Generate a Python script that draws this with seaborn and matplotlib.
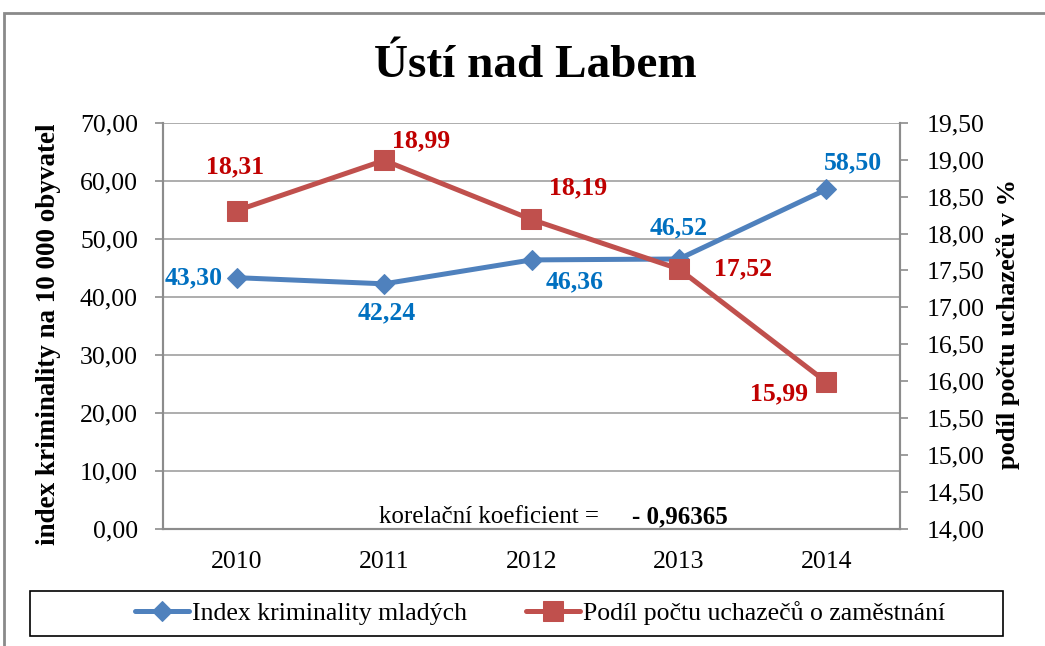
import matplotlib
matplotlib.use("Agg")
import matplotlib.pyplot as plt
import seaborn as sns
import pandas as pd
from matplotlib.patches import Rectangle
from matplotlib.ticker import FixedLocator, FuncFormatter

# ---- data ----
years = ["2010", "2011", "2012", "2013", "2014"]
crime_index = [43.30, 42.24, 46.36, 46.52, 58.50]
unemployment = [18.31, 18.99, 18.19, 17.52, 15.99]
crime_label_offsets = [(-14, 0), (3, -29), (43, -22), (0, 31), (27, 27)]
unemp_label_offsets = [(-2, 44), (37, 20), (47, 32), (64, 0), (-47, -12)]
left_ticks = [0, 10, 20, 30, 40, 50, 60, 70]
right_ticks = [14.0, 14.5, 15.0, 15.5, 16.0, 16.5, 17.0, 17.5, 18.0, 18.5, 19.0, 19.5]
title = "Ústí nad Labem"
left_label = "index kriminality na 10 000 obyvatel"
right_label = "podíl počtu uchazečů v %"
series1 = "Index kriminality mladých"
series2 = "Podíl počtu uchazečů o zaměstnání"
corr_text = "korelační koeficient ="
corr_value = "- 0,96365"

sns.set_style("white")
plt.rcParams["font.family"] = ["Liberation Serif", "DejaVu Serif"]
plt.rcParams["text.color"] = "black"
plt.rcParams["axes.labelcolor"] = "black"
plt.rcParams["xtick.color"] = "black"
plt.rcParams["ytick.color"] = "black"

W, H = 1045, 646
fig = plt.figure(figsize=(W / 100, H / 100), dpi=100)

def fx(px):
    return px / W

def fy(py):
    return 1 - py / H

ax = fig.add_axes([fx(163), fy(529), fx(900) - fx(163), fy(122.7) - fy(529)])
ax2 = ax.twinx()

df = pd.DataFrame({"pos": range(len(years)), "year": years,
                   "crime": crime_index, "unemp": unemployment})

blue_line = "#4F81BD"
red_line = "#C0504D"
blue_text = "#0070C0"
red_text = "#C00000"
grey = "#8C8C8C"

sns.lineplot(data=df, x="pos", y="crime", ax=ax, color=blue_line, linewidth=3.6,
             marker="D", markersize=10.5, markeredgecolor=blue_line, label=series1,
             legend=False)
sns.lineplot(data=df, x="pos", y="unemp", ax=ax2, color=red_line, linewidth=3.6,
             marker="s", markersize=14, markeredgecolor=red_line, label=series2,
             legend=False)

ax.set_xlim(-0.5, len(years) - 0.5)
ax.set_ylim(0, 70)
ax2.set_ylim(14, 19.5)

comma = FuncFormatter(lambda v, p: f"{v:.2f}".replace(".", ","))
ax.yaxis.set_major_locator(FixedLocator(left_ticks))
ax.yaxis.set_major_formatter(comma)
ax2.yaxis.set_major_locator(FixedLocator(right_ticks))
ax2.yaxis.set_major_formatter(comma)

ax.set_xticks(range(len(years)))
ax.set_xticklabels(years)
ax.set_xticks([i - 0.5 for i in range(len(years) + 1)], minor=True)
ax.tick_params(axis="x", which="major", length=0, pad=16, labelsize=18.5)
ax.tick_params(axis="x", which="minor", length=6, width=1.2, color=grey, direction="out")
ax.tick_params(axis="y", length=6, width=1.2, color=grey, pad=12, labelsize=18.5, left=True,
               labelcolor="black")
ax2.tick_params(axis="y", length=6, width=1.2, color=grey, pad=13, labelsize=18.5, right=True,
                labelcolor="black")

ax.grid(axis="y", color="#A0A0A0", linewidth=1.2)
ax.set_axisbelow(True)
for a in (ax, ax2):
    a.spines["top"].set_visible(False)
    for s in ("left", "right", "bottom"):
        a.spines[s].set_color(grey)
        a.spines[s].set_linewidth(1.5)
ax.set_xlabel("")
ax.set_ylabel("")
ax2.set_ylabel("")

fig.text(fx(49), fy(334), left_label, rotation=90, ha="center", va="center",
         fontsize=19.5, fontweight="bold")
fig.text(fx(1008), fy(324), right_label, rotation=90, ha="center", va="center",
         fontsize=19, fontweight="bold")

for i, (v, off) in enumerate(zip(crime_index, crime_label_offsets)):
    ax.annotate(f"{v:.2f}".replace(".", ","), (i, v), xytext=off, textcoords="offset pixels",
                ha="right" if off[0] == -14 else "center", va="center",
                fontsize=18.5, fontweight="bold", color=blue_text)
for i, (v, off) in enumerate(zip(unemployment, unemp_label_offsets)):
    ax2.annotate(f"{v:.2f}".replace(".", ","), (i, v), xytext=off, textcoords="offset pixels",
                 ha="center", va="center", fontsize=18.5, fontweight="bold", color=red_text)

fig.text(fx(489), fy(517), corr_text, ha="center", va="center", fontsize=18)
fig.text(fx(680), fy(517), corr_value, ha="center", va="center", fontsize=18, fontweight="bold")

fig.text(fx(535), fy(66), title, ha="center", va="center", fontsize=34, fontweight="bold")

# outer chart frame and legend box
fig.patches.append(Rectangle((fx(4), -0.1), 1.5, fy(13) + 0.1, transform=fig.transFigure,
                             fill=False, edgecolor="#8A8A8A", linewidth=2))
fig.patches.append(Rectangle((fx(30), fy(636)), fx(1003) - fx(30), fy(591) - fy(636),
                             transform=fig.transFigure, fill=False, edgecolor="black",
                             linewidth=1.2))

h1, l1 = ax.get_legend_handles_labels()
h2, l2 = ax2.get_legend_handles_labels()
fig.legend(h1 + h2, l1 + l2, loc="center", bbox_to_anchor=(fx(540), fy(613)), ncol=2,
           frameon=False, fontsize=18.5, handlelength=2.1, handletextpad=0.1,
           columnspacing=2.3)

fig.savefig("out.png", dpi=100)
